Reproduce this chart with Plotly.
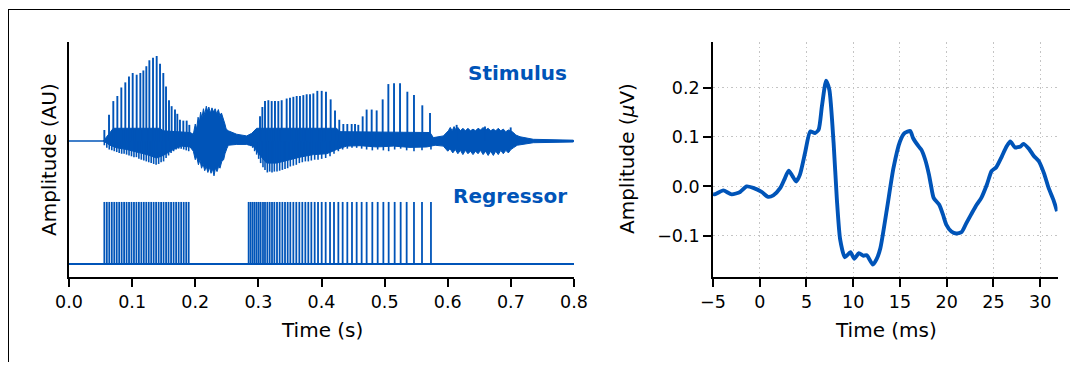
import plotly.graph_objects as go

# page geometry: the page body adds an 8 px margin around the figure
PAGE_W, PAGE_H = 1078, 370
OFF = 8
W, H = PAGE_W - 2 * OFF, PAGE_H - 2 * OFF
BLUE = "#0054b8"
FONT = "DejaVu Sans"
GRID = "#c4c4c4"

# ---------------- Left panel data (time in s, amplitude in AU) ----------------
stim_span = [0.0, 0.8]

# dense core of the stimulus waveform: upper and lower edges
env_up_t = [0.0544, 0.0597, 0.0702, 0.1442, 0.1494, 0.1917, 0.1970,
            0.2000, 0.2022, 0.2045, 0.2065, 0.2085, 0.2105, 0.2130, 0.2150, 0.2175, 0.2195,
            0.2215, 0.2240, 0.2265, 0.2290, 0.2315, 0.2340, 0.2366, 0.2390, 0.2415, 0.2445,
            0.2470, 0.2490, 0.2524, 0.2656, 0.2815, 0.2894, 0.2973, 0.4240, 0.4293, 0.5719,
            0.5772, 0.5930, 0.6009, 0.6040, 0.6070, 0.6100, 0.6130, 0.6160, 0.6200, 0.6240,
            0.6280, 0.6320, 0.6360, 0.6400, 0.6440, 0.6480, 0.6520, 0.6560, 0.6600, 0.6640,
            0.6680, 0.6720, 0.6760, 0.6800, 0.6840, 0.6880, 0.6920, 0.6960, 0.7000, 0.7039,
            0.7080, 0.7145, 0.7356, 0.7989]
env_up = [0.0, 0.05, 0.15, 0.15, 0.12, 0.10, 0.08,
          0.20, 0.14, 0.28, 0.22, 0.34, 0.27, 0.38, 0.31, 0.41, 0.35,
          0.40, 0.33, 0.39, 0.34, 0.38, 0.32, 0.37, 0.30, 0.33, 0.27,
          0.20, 0.14, 0.12, 0.08, 0.06, 0.09, 0.15, 0.15, 0.11, 0.10,
          0.04, 0.06, 0.12, 0.16, 0.12, 0.17, 0.13, 0.16, 0.12, 0.15,
          0.12, 0.15, 0.12, 0.14, 0.12, 0.15, 0.13, 0.16, 0.13, 0.15,
          0.12, 0.14, 0.12, 0.15, 0.12, 0.14, 0.11, 0.13, 0.12, 0.10,
          0.07, 0.05, 0.02, 0.01]

env_lo_t = [0.0544, 0.0650, 0.0755, 0.0914, 0.1072, 0.1230, 0.1389, 0.1494, 0.1653, 0.1785,
            0.1917, 0.1970, 0.2000, 0.2022, 0.2050, 0.2075, 0.2100, 0.2125, 0.2150, 0.2175,
            0.2200, 0.2225, 0.2250, 0.2275, 0.2297, 0.2320, 0.2345, 0.2370, 0.2392, 0.2420,
            0.2450, 0.2471, 0.2500, 0.2524, 0.2656, 0.2815, 0.2920, 0.3026, 0.3131, 0.3290,
            0.3448, 0.3659, 0.3871, 0.4082, 0.4240, 0.4399, 0.4610, 0.4874, 0.5138, 0.5402,
            0.5666, 0.5800, 0.5930, 0.6000, 0.6036, 0.6080, 0.6120, 0.6160, 0.6200, 0.6240,
            0.6280, 0.6320, 0.6360, 0.6400, 0.6440, 0.6480, 0.6520, 0.6560, 0.6600, 0.6640,
            0.6680, 0.6722, 0.6760, 0.6800, 0.6840, 0.6880, 0.6920, 0.6960, 0.7000, 0.7040,
            0.7100, 0.7145, 0.7356, 0.7989]
env_lo = [0.0, -0.05, -0.08, -0.10, -0.13, -0.16, -0.20, -0.17, -0.10, -0.06,
          -0.07, -0.12, -0.22, -0.18, -0.28, -0.22, -0.32, -0.27, -0.35, -0.30,
          -0.37, -0.31, -0.38, -0.33, -0.41, -0.32, -0.36, -0.30, -0.32, -0.24,
          -0.22, -0.15, -0.09, -0.05, -0.04, -0.04, -0.06, -0.17, -0.26, -0.26,
          -0.23, -0.19, -0.16, -0.15, -0.10, -0.06, -0.055, -0.07, -0.06, -0.075,
          -0.07, -0.05, -0.06, -0.12, -0.09, -0.14, -0.10, -0.15, -0.11, -0.16,
          -0.11, -0.15, -0.12, -0.16, -0.12, -0.15, -0.11, -0.16, -0.12, -0.17,
          -0.12, -0.17, -0.12, -0.16, -0.11, -0.15, -0.11, -0.14, -0.10, -0.08,
          -0.05, -0.04, -0.02, -0.012]

# glottal-pulse peaks in the stimulus (time, peak amplitude)
spike_t = [0.0560, 0.0634, 0.0702, 0.0766, 0.0829, 0.0892, 0.0950, 0.1009, 0.1072, 0.1130,
           0.1178, 0.1225, 0.1273, 0.1331, 0.1389, 0.1442, 0.1494, 0.1537, 0.1584, 0.1626,
           0.1679, 0.1716, 0.1758, 0.1811, 0.1864, 0.1906,
           0.3026, 0.3063, 0.3105, 0.3158, 0.3211, 0.3263, 0.3316, 0.3369, 0.3448, 0.3501,
           0.3554, 0.3607, 0.3659, 0.3712, 0.3765, 0.3818, 0.3871, 0.3934, 0.4003, 0.4071,
           0.4145, 0.4214, 0.4282, 0.4346, 0.4409, 0.4478, 0.4531, 0.4583, 0.4652, 0.4715,
           0.4795, 0.4874, 0.4969, 0.5059, 0.5149, 0.5244, 0.5360, 0.5465, 0.5597, 0.5719,
           0.6141, 0.6590, 0.6997]
spike_a = [0.13, 0.31, 0.47, 0.53, 0.63, 0.69, 0.76, 0.80, 0.78, 0.80,
           0.83, 0.88, 0.95, 0.98, 1.00, 0.91, 0.80, 0.64, 0.48, 0.41,
           0.37, 0.32, 0.25, 0.24, 0.24, 0.19,
           0.29, 0.40, 0.47, 0.48, 0.47, 0.47, 0.47, 0.48, 0.50, 0.51,
           0.52, 0.53, 0.53, 0.54, 0.55, 0.55, 0.56, 0.59, 0.59, 0.58,
           0.49, 0.36, 0.25, 0.20, 0.20, 0.20, 0.20, 0.19, 0.29, 0.37,
           0.37, 0.36, 0.49, 0.67, 0.68, 0.68, 0.58, 0.54, 0.42, 0.33,
           0.19, 0.17, 0.16]

# regressor pulse times (s)
reg_t = [0.0560, 0.0599, 0.0638, 0.0678, 0.0717, 0.0756, 0.0795, 0.0834, 0.0873, 0.0912,
         0.0951, 0.0990, 0.1029, 0.1068, 0.1107, 0.1146, 0.1185, 0.1224, 0.1263, 0.1302,
         0.1341, 0.1380, 0.1420, 0.1459, 0.1498, 0.1538, 0.1577, 0.1617, 0.1657, 0.1697,
         0.1737, 0.1777, 0.1817, 0.1857, 0.1896,
         0.2846, 0.2878, 0.2910, 0.2941, 0.2973, 0.3005, 0.3036, 0.3073, 0.3105, 0.3142,
         0.3179, 0.3216, 0.3253, 0.3295, 0.3337, 0.3380, 0.3422, 0.3464, 0.3506, 0.3554,
         0.3601, 0.3649, 0.3696, 0.3744, 0.3791, 0.3839, 0.3892, 0.3945, 0.4003, 0.4066,
         0.4135, 0.4198, 0.4267, 0.4335, 0.4409, 0.4483, 0.4557, 0.4636, 0.4715, 0.4805,
         0.4890, 0.4980, 0.5064, 0.5159, 0.5254, 0.5349, 0.5465, 0.5592, 0.5734]
reg_height = 1.0

# stimulus troughs at each glottal pulse (same times as the regressor pulses)
trough_a = [-0.05, -0.08, -0.10, -0.11, -0.12, -0.13, -0.14, -0.15, -0.15, -0.16,
            -0.17, -0.18, -0.19, -0.19, -0.21, -0.22, -0.23, -0.24, -0.25, -0.26,
            -0.27, -0.28, -0.27, -0.25, -0.24, -0.20, -0.17, -0.14, -0.12, -0.10,
            -0.09, -0.09, -0.10, -0.11, -0.12,
            -0.05, -0.06, -0.08, -0.12, -0.16, -0.21, -0.26, -0.31, -0.34, -0.37,
            -0.36, -0.37, -0.36, -0.36, -0.35, -0.34, -0.33, -0.32, -0.30, -0.29,
            -0.28, -0.26, -0.25, -0.24, -0.24, -0.23, -0.22, -0.22, -0.21, -0.20,
            -0.18, -0.15, -0.12, -0.10, -0.09, -0.08, -0.08, -0.09, -0.10, -0.11,
            -0.10, -0.11, -0.12, -0.10, -0.09, -0.11, -0.12, -0.11, -0.10]

# ---------------- Right panel data (time in ms, amplitude in uV) ----------------
resp_t = [-5.0, -4.8, -3.9, -3.0, -2.1, -1.4, -0.7, 0.2, 0.9, 1.45,
          2.2, 2.7, 3.1, 3.5, 3.9, 4.3, 4.85, 5.4, 5.9, 6.3,
          6.65, 7.1, 7.45, 7.9, 8.25, 8.6, 9.1, 9.7, 10.1, 10.6,
          11.1, 11.45, 12.1, 12.5, 12.9, 13.6, 14.3, 15.0, 15.5, 16.1,
          16.4, 17.0, 17.3, 17.7, 18.1, 18.3, 18.6, 19.2, 19.6, 19.95,
          20.5, 21.0, 21.6, 22.1, 22.6, 23.2, 23.7, 24.3, 24.8, 25.3,
          25.9, 26.4, 26.8, 27.3, 27.9, 28.2, 28.8, 29.3, 29.85, 30.4,
          30.9, 31.45, 31.8]
resp_a = [-0.015, -0.016, -0.008, -0.016, -0.011, 0.000, -0.003, -0.011, -0.021, -0.018,
          -0.003, 0.017, 0.032, 0.021, 0.010, 0.024, 0.068, 0.111, 0.108, 0.115,
          0.162, 0.214, 0.195, 0.088, -0.026, -0.107, -0.143, -0.133, -0.146, -0.135,
          -0.140, -0.139, -0.158, -0.147, -0.125, -0.046, 0.037, 0.091, 0.108, 0.112,
          0.098, 0.081, 0.074, 0.054, 0.024, 0.004, -0.023, -0.037, -0.057, -0.077,
          -0.091, -0.095, -0.092, -0.074, -0.057, -0.037, -0.023, 0.004, 0.031, 0.039,
          0.061, 0.081, 0.091, 0.079, 0.081, 0.086, 0.076, 0.062, 0.051, 0.027,
          -0.003, -0.029, -0.050]

xticks_left = [0.0, 0.1, 0.2, 0.3, 0.4, 0.5, 0.6, 0.7, 0.8]
xticks_right = [-5, 0, 5, 10, 15, 20, 25, 30]
yticks_right = [-0.1, 0.0, 0.1, 0.2]

# ---------------- layout helpers ----------------
REG_OFFSET = -1.447
REG_SCALE = 0.73


def fx(p):
    """page pixel x -> paper fraction"""
    return (p - OFF) / W


def fy(p):
    """page pixel y -> paper fraction"""
    return 1 - (p - OFF) / H


def segments(xs, y0s, y1s):
    px_, py_ = [], []
    for x, a, b in zip(xs, y0s, y1s):
        px_ += [x, x, None]
        py_ += [a, b, None]
    return px_, py_


fig = go.Figure()

# stimulus baseline
fig.add_trace(go.Scatter(x=stim_span, y=[0, 0], mode="lines",
                         line=dict(color=BLUE, width=1.6), xaxis="x", yaxis="y",
                         hoverinfo="skip", showlegend=False))
# stimulus dense core
band_x = list(env_up_t) + list(reversed(env_lo_t))
band_y = list(env_up) + list(reversed(env_lo))
fig.add_trace(go.Scatter(x=band_x, y=band_y, mode="lines", fill="toself",
                         fillcolor=BLUE, line=dict(color=BLUE, width=1),
                         xaxis="x", yaxis="y", hoverinfo="skip", showlegend=False))
# stimulus troughs
tx, ty = segments(reg_t, [0] * len(reg_t), trough_a)
fig.add_trace(go.Scatter(x=tx, y=ty, mode="lines", line=dict(color=BLUE, width=1.6),
                         xaxis="x", yaxis="y", hoverinfo="skip", showlegend=False))
# stimulus peaks
sx, sy = segments(spike_t, [0] * len(spike_t), spike_a)
fig.add_trace(go.Scatter(x=sx, y=sy, mode="lines", line=dict(color=BLUE, width=1.9),
                         xaxis="x", yaxis="y", hoverinfo="skip", showlegend=False))

# regressor baseline and pulses
fig.add_trace(go.Scatter(x=stim_span, y=[REG_OFFSET, REG_OFFSET], mode="lines",
                         line=dict(color=BLUE, width=1.8), xaxis="x", yaxis="y",
                         hoverinfo="skip", showlegend=False))
rx, ry = segments(reg_t, [REG_OFFSET] * len(reg_t),
                  [REG_OFFSET + reg_height * REG_SCALE] * len(reg_t))
fig.add_trace(go.Scatter(x=rx, y=ry, mode="lines", line=dict(color=BLUE, width=1.8),
                         xaxis="x", yaxis="y", hoverinfo="skip", showlegend=False))

# response
fig.add_trace(go.Scatter(x=resp_t, y=resp_a, mode="lines",
                         line=dict(color=BLUE, width=3.9, shape="spline", smoothing=0.6),
                         xaxis="x2", yaxis="y2", hoverinfo="skip", showlegend=False))

axis_common = dict(showline=True, linecolor="black", linewidth=1.6, ticks="outside",
                   ticklen=8, tickwidth=1.5, tickcolor="black", zeroline=False,
                   automargin=False,
                   tickfont=dict(family=FONT, size=17.5, color="black"))

ydom = [fy(277), fy(42)]

fig.update_layout(
    template="none",
    width=W, height=H,
    margin=dict(l=0, r=0, t=0, b=0, pad=0, autoexpand=False),
    paper_bgcolor="white", plot_bgcolor="white",
    showlegend=False,
    xaxis=dict(domain=[fx(69), fx(574)], range=[0, 0.8], tickvals=xticks_left,
               tickformat=".1f", showgrid=False, anchor="y", **axis_common),
    yaxis=dict(domain=ydom, range=[-1.6, 1.165], showticklabels=False, ticks="",
               showline=True, linecolor="black", linewidth=1.6, zeroline=False,
               showgrid=False, automargin=False, anchor="x"),
    xaxis2=dict(domain=[fx(713), fx(1057.5)], range=[-5, 31.85], tickvals=xticks_right,
                showgrid=True, gridcolor=GRID, griddash="1.5px,3px", gridwidth=1.2,
                anchor="y2", **axis_common),
    yaxis2=dict(domain=ydom, range=[-0.183, 0.292], tickvals=yticks_right,
                tickformat=".1f", showgrid=True, gridcolor=GRID, griddash="1.5px,3px",
                gridwidth=1.2, anchor="x2", **axis_common),
)

ann_font = dict(family=FONT, size=20, color="black")
annotations = [
    dict(text="<b>Stimulus</b>", x=fx(569), y=fy(73), xanchor="right", yanchor="middle",
         font=dict(family=FONT, size=20, color=BLUE)),
    dict(text="<b>Regressor</b>", x=fx(569), y=fy(196), xanchor="right", yanchor="middle",
         font=dict(family=FONT, size=20, color=BLUE)),
    dict(text="Time (s)", x=fx(321.5), y=fy(330), xanchor="center", yanchor="middle",
         font=ann_font),
    dict(text="Amplitude (AU)", x=fx(49), y=fy(160), xanchor="center", yanchor="middle",
         textangle=-90, font=ann_font),
    dict(text="Time (ms)", x=fx(885.5), y=fy(330), xanchor="center", yanchor="middle",
         font=ann_font),
    dict(text="Amplitude (<i>μ</i>V)", x=fx(627), y=fy(159), xanchor="center",
         yanchor="middle", textangle=-90, font=ann_font),
]
for a in annotations:
    a.update(xref="paper", yref="paper", showarrow=False)
fig.update_layout(annotations=annotations)

# figure frame edges visible in the reference
fig.add_shape(type="line", xref="paper", yref="paper", x0=0, x1=1, y0=fy(9.5), y1=fy(9.5),
              line=dict(color="black", width=1))
fig.add_shape(type="line", xref="paper", yref="paper", x0=fx(8.5), x1=fx(8.5), y0=0, y1=fy(9),
              line=dict(color="black", width=1))

fig.write_html("out.html")
